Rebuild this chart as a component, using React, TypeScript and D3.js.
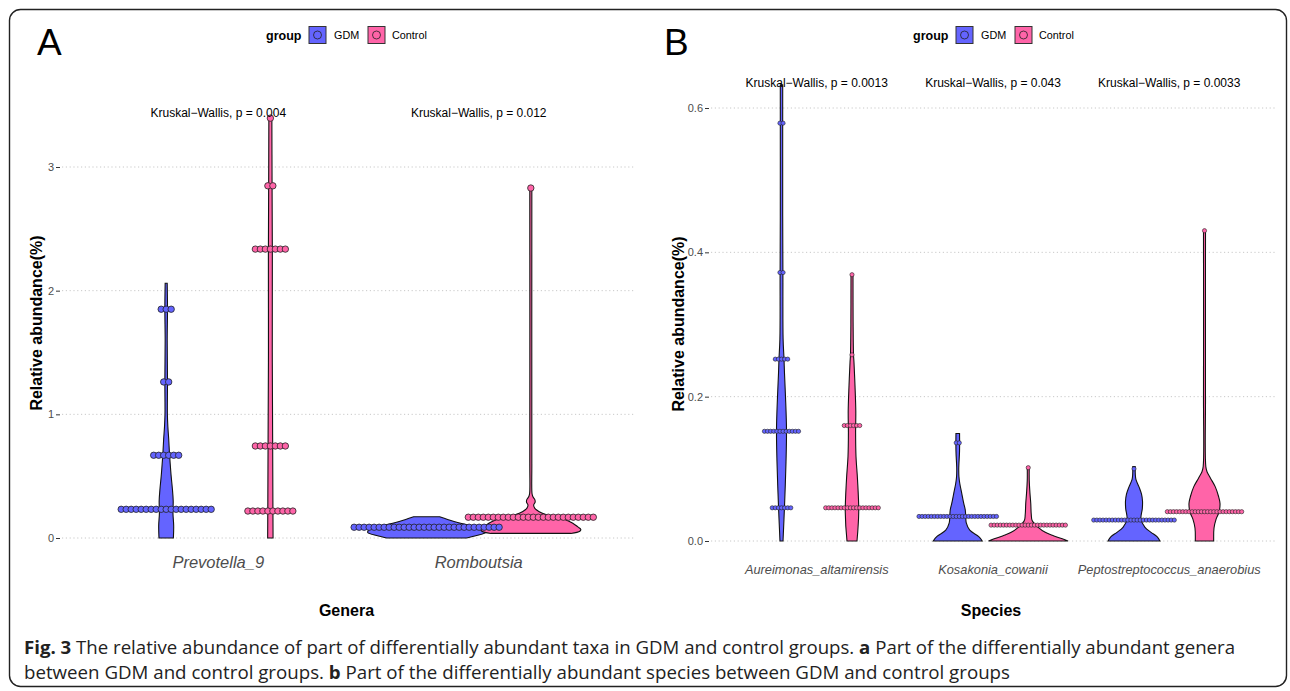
import * as d3 from 'd3';
import { useEffect, useRef } from 'react';

// groups and colours
const groups = ['GDM', 'Control'];
const groupFill = ['#6464FF', '#FF64A8'];

// panel A: genera
const genera = ['Prevotella_9', 'Romboutsia'];
const generaP = ['0.004', '0.012'];
const ticksA = [0, 1, 2, 3];

// panel B: species
const species = ['Aureimonas_altamirensis', 'Kosakonia_cowanii', 'Peptostreptococcus_anaerobius'];
const speciesP = ['0.0013', '0.043', '0.0033'];
const ticksB = [0, 0.2, 0.4, 0.6];

// violin outlines: [abundance, relative density]
const vPrevGDM = [[0, .12], [0.1, .125], [0.2, .113], [0.3, .117], [0.4, .103], [0.5, .083], [0.6, .067], [0.7, .053], [0.8, .042], [0.9, .028], [1.0, .02], [1.27, .022], [1.6, .017], [1.85, .022], [2.06, .017]];
const vPrevCtrl = [[0, .045], [0.3, .042], [0.8, .038], [1.5, .032], [2.3, .033], [2.9, .028], [3.4, .025]];
const vRombGDM = [[0, .667], [0.02, .833], [0.045, .983], [0.075, .933], [0.1, .75], [0.125, .517], [0.15, .35], [0.172, .217]];
const vRombCtrl = [[0.037, .667], [0.055, .817], [0.07, .833], [0.09, .783], [0.12, .7], [0.15, .567], [0.17, .4], [0.19, .25], [0.215, .133], [0.24, .067], [0.265, .047], [0.29, .072], [0.31, .067], [0.335, .033], [0.36, .02], [0.6, .017], [2.83, .017]];

const vAurGDM = [[0, .038], [0.048, .075], [0.11, .113], [0.154, .125], [0.2, .1], [0.232, .075], [0.252, .063], [0.28, .04], [0.37, .035], [0.45, .03], [0.632, .03]];
const vAurCtrl = [[0, .125], [0.04, .168], [0.085, .138], [0.117, .1], [0.15, .09], [0.18, .095], [0.215, .075], [0.247, .05], [0.258, .038], [0.3, .028], [0.369, .025]];
const vKosGDM = [[0, .613], [0.006, .525], [0.015, .3], [0.025, .213], [0.034, .2], [0.043, .188], [0.052, .15], [0.066, .1], [0.08, .05], [0.089, .03], [0.1, .025], [0.125, .045], [0.149, .045]];
const vKosCtrl = [[0, .993], [0.003, .85], [0.008, .6], [0.012, .425], [0.019, .25], [0.028, .1], [0.037, .075], [0.052, .063], [0.066, .043], [0.084, .025], [0.103, .025]];
const vPepGDM = [[0, .65], [0.006, .575], [0.012, .425], [0.019, .275], [0.03, .175], [0.045, .208], [0.055, .213], [0.065, .188], [0.075, .125], [0.085, .05], [0.092, .033], [0.103, .03]];
const vPepCtrl = [[0, .23], [0.018, .238], [0.03, .288], [0.04, .363], [0.052, .388], [0.062, .35], [0.075, .27], [0.087, .15], [0.096, .063], [0.103, .033], [0.2, .025], [0.43, .025]];

// dot rows: [abundance bin, count]
const dPrevGDM = [[0.232, 19], [0.669, 6], [1.262, 2], [1.85, 3]];
const dPrevCtrl = [[0.218, 10], [0.744, 7], [2.336, 7], [2.848, 2], [3.395, 1]];
const dRombGDM = [[0.087, 30]];
const dRombCtrl = [[0.168, 26], [2.83, 1]];

const dAurGDM = [[0.579, 2], [0.372, 2], [0.252, 5], [0.152, 12], [0.046, 7]];
const dAurCtrl = [[0.369, 1], [0.258, 1], [0.16, 6], [0.046, 18]];
const dKosGDM = [[0.034, 26], [0.136, 2]];
const dKosCtrl = [[0.022, 25], [0.1016, 1]];
const dPepGDM = [[0.029, 27], [0.1, 1]];
const dPepCtrl = [[0.0406, 25], [0.43, 1]];

const FONT = "'Liberation Sans', Arial, Helvetica, sans-serif";

function drawPanel(svg, p) {
  const x = d3.scalePoint().domain(p.cats).range([p.left, p.right]).padding(0.6);
  const y = d3.scaleLinear().domain(p.domain).range([p.bottom, p.top]);
  const dodge = x.step() * 0.2;
  const w = d3.scaleLinear().domain([0, 1]).range([0, p.maxHalf]);
  const g = svg.append('g');

  // grid
  g.selectAll('line.grid').data(p.ticks).enter().append('line')
    .attr('x1', p.left).attr('x2', p.right)
    .attr('y1', d => y(d)).attr('y2', d => y(d))
    .attr('stroke', '#c8c8c8').attr('stroke-width', 1).attr('stroke-dasharray', '1.2 2.6');

  // y axis
  const ax = g.append('g').attr('transform', `translate(${p.left - 2},0)`)
    .call(d3.axisLeft(y).tickValues(p.ticks).tickFormat(d3.format(p.fmt)).tickSize(4).tickPadding(2));
  ax.select('.domain').remove();
  ax.selectAll('line').attr('stroke', '#333');
  ax.selectAll('text').attr('fill', '#4d4d4d').attr('font-size', p.tickSize).attr('font-family', FONT);

  const cx = (ci, gi) => x(p.cats[ci]) + (gi === 0 ? -dodge : dodge);

  // violins
  p.violins.forEach((pair, ci) => pair.forEach((prof, gi) => {
    const c = cx(ci, gi);
    const area = d3.area()
      .y(d => y(d[0]))
      .x0(d => c - w(d[1]))
      .x1(d => c + w(d[1]))
      .curve(d3.curveCatmullRom.alpha(0.5));
    g.append('path').attr('d', area(prof))
      .attr('fill', groupFill[gi]).attr('stroke', '#111').attr('stroke-width', p.vStroke);
  }));

  // dots
  p.dots.forEach((pair, ci) => pair.forEach((rows, gi) => {
    const c = cx(ci, gi);
    const pts = [];
    rows.forEach(([v, n]) => {
      for (let i = 0; i < n; i++) pts.push([c + (i - (n - 1) / 2) * p.dotStep, y(v)]);
    });
    g.selectAll(null).data(pts).enter().append('circle')
      .attr('cx', d => d[0]).attr('cy', d => d[1]).attr('r', p.dotR)
      .attr('fill', groupFill[gi]).attr('stroke', '#222').attr('stroke-width', p.dotStroke);
  }));

  // kruskal labels
  g.selectAll('text.kw').data(p.cats).enter().append('text')
    .attr('x', d => x(d)).attr('y', p.kwY)
    .attr('text-anchor', 'middle').attr('font-family', FONT).attr('font-size', 12)
    .text((d, i) => `Kruskal\u2212Wallis, p = ${p.pvals[i]}`);

  // category labels
  g.selectAll('text.cat').data(p.cats).enter().append('text')
    .attr('x', d => x(d)).attr('y', p.catY)
    .attr('text-anchor', 'middle').attr('font-family', FONT).attr('font-style', 'italic')
    .attr('font-size', p.catSize).attr('fill', '#4d4d4d')
    .text(d => d);

  // titles
  g.append('text').attr('x', (p.left + p.right) / 2 - 2).attr('y', 616)
    .attr('text-anchor', 'middle').attr('font-family', FONT).attr('font-weight', 'bold')
    .attr('font-size', 16).text(p.xTitle);
  g.append('text').attr('transform', `translate(${p.yTitleX},${p.yTitleY}) rotate(-90)`)
    .attr('text-anchor', 'middle').attr('font-family', FONT).attr('font-weight', 'bold')
    .attr('font-size', 16).text('Relative abundance(%)');

  // panel letter
  g.append('text').attr('x', p.letterX).attr('y', 55)
    .attr('font-family', FONT).attr('font-size', 37).text(p.letter);

  // legend
  const lg = g.append('g').attr('transform', `translate(${p.legendX},0)`);
  lg.append('text').attr('x', 0).attr('y', 39.5).attr('font-family', FONT)
    .attr('font-weight', 'bold').attr('font-size', 12.5).text('group');
  const keyX = [43, 102];
  const labX = [68, 126];
  groups.forEach((grp, gi) => {
    lg.append('rect').attr('x', keyX[gi]).attr('y', 26.5).attr('width', 17).attr('height', 17)
      .attr('fill', groupFill[gi]).attr('stroke', '#333').attr('stroke-width', 1);
    lg.append('circle').attr('cx', keyX[gi] + 8.5).attr('cy', 35).attr('r', 4)
      .attr('fill', groupFill[gi]).attr('stroke', '#222').attr('stroke-width', 0.8);
    lg.append('text').attr('x', labX[gi]).attr('y', 39).attr('font-family', FONT)
      .attr('font-size', 10.8).text(grp);
  });
}

function makeChart(node) {
  const svg = d3.select(node);
  svg.selectAll('*').remove();

  svg.append('rect').attr('x', 9.5).attr('y', 9.5).attr('width', 1277).attr('height', 677)
    .attr('rx', 11).attr('fill', 'none').attr('stroke', '#222').attr('stroke-width', 1.4);

  drawPanel(svg, {
    cats: genera, pvals: generaP, ticks: ticksA, fmt: 'd', domain: [0, 3],
    left: 62, right: 635, top: 167, bottom: 538, maxHalf: 60,
    violins: [[vPrevGDM, vPrevCtrl], [vRombGDM, vRombCtrl]],
    dots: [[dPrevGDM, dPrevCtrl], [dRombGDM, dRombCtrl]],
    dotStep: 5.0, dotR: 3.2, dotStroke: 0.8, vStroke: 1.1,
    kwY: 117, catY: 568, catSize: 16.5, tickSize: 11,
    xTitle: 'Genera', yTitleX: 42, yTitleY: 323,
    letter: 'A', letterX: 37, legendX: 266,
  });

  drawPanel(svg, {
    cats: species, pvals: speciesP, ticks: ticksB, fmt: '.1f', domain: [0, 0.6],
    left: 711, right: 1275, top: 108, bottom: 541, maxHalf: 40,
    violins: [[vAurGDM, vAurCtrl], [vKosGDM, vKosCtrl], [vPepGDM, vPepCtrl]],
    dots: [[dAurGDM, dAurCtrl], [dKosGDM, dKosCtrl], [dPepGDM, dPepCtrl]],
    dotStep: 3.1, dotR: 2.1, dotStroke: 0.6, vStroke: 1.1,
    kwY: 87, catY: 574, catSize: 12.8, tickSize: 11,
    xTitle: 'Species', yTitleX: 684, yTitleY: 324,
    letter: 'B', letterX: 664, legendX: 913,
  });

  // caption
  const cap = svg.append('g').attr('font-family', "'Open Sans', 'Noto Sans', sans-serif").attr('font-size', 18.5).attr('fill', '#222');
  const l1 = cap.append('text').attr('x', 24).attr('y', 654)
    .attr('textLength', 1211).attr('lengthAdjust', 'spacingAndGlyphs');
  l1.append('tspan').attr('font-weight', 'bold').text('Fig. 3');
  l1.append('tspan').text(' The relative abundance of part of differentially abundant taxa in GDM and control groups. ');
  l1.append('tspan').attr('font-weight', 'bold').text('a');
  l1.append('tspan').text(' Part of the differentially abundant genera');
  const l2 = cap.append('text').attr('x', 24).attr('y', 679)
    .attr('textLength', 986).attr('lengthAdjust', 'spacingAndGlyphs');
  l2.append('tspan').text('between GDM and control groups. ');
  l2.append('tspan').attr('font-weight', 'bold').text('b');
  l2.append('tspan').text(' Part of the differentially abundant species between GDM and control groups');
}

function App() {
  const ref = useRef(null);
  useEffect(() => {
    makeChart(ref.current);
  }, []);

  return (
    <svg ref={ref} width="1290" height="691"
      style={{ position: 'absolute', left: 0, top: 0, background: '#fff' }}>
    </svg>
  );
}

export default App;
